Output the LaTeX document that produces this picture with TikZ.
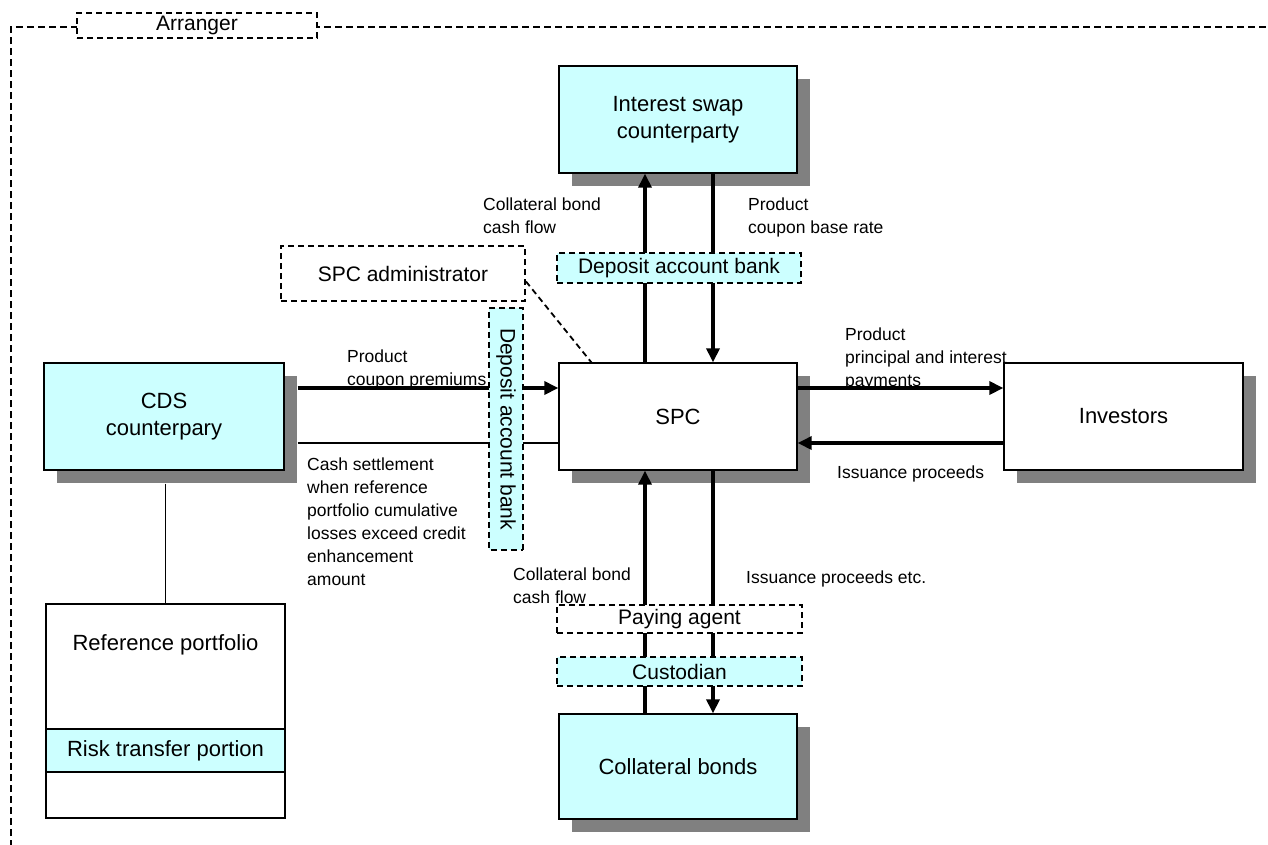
\documentclass[tikz,border=0pt]{standalone}
\usepackage{fontspec}
\setmainfont{Liberation Sans}
\usetikzlibrary{arrows.meta,calc,shadows}
\definecolor{lc}{HTML}{CCFFFF}
\definecolor{sh}{HTML}{808080}
\begin{document}
\begin{tikzpicture}[x=1pt,y=-1pt,
  solidbox/.style={draw, line width=1.3pt, minimum width=238pt, minimum height=107pt, align=center, font=\fontsize{22}{27}\selectfont, inner sep=0pt},
  shad/.style={drop shadow={shadow xshift=13pt, shadow yshift=-13pt, fill=sh, opacity=1}},
  dbox/.style={draw, line width=2pt, dash pattern=on 6pt off 4pt, font=\fontsize{21}{24}\selectfont, inner sep=0pt},
  flow/.style={line width=3.3pt, -{Triangle[length=14pt,width=13pt]}},
  plain/.style={line width=2.5pt},
  lbl/.style={font=\fontsize{17.5}{23}\selectfont, align=left, anchor=north west, inner sep=0pt},
  lbs/.style={font=\fontsize{17.5}{23}\selectfont, anchor=base west, inner sep=0pt},
  frame/.style={line width=2pt, dash pattern=on 7pt off 4pt},
]
\useasboundingbox (0,0) rectangle (1268,844);
\clip (0,0) rectangle (1268,844);

% outer frame
\draw[frame] (11,880) -- (11,27) -- (1300,27);

% solid boxes
\node[solidbox, fill=lc, shad] (isc) at (678,119.5) {Interest swap\\counterparty};
\node[solidbox, fill=white, shad] (spc) at (678,416.5) {SPC};
\node[solidbox, fill=lc, shad, minimum width=240pt] (cds) at (164,416.5) {CDS\\counterpary};
\node[solidbox, fill=white, shad, minimum width=239pt] (inv) at (1123.5,416.5) {Investors};
\node[solidbox, fill=lc, shad, minimum height=105pt] (col) at (678,766.5) {Collateral bonds};

% reference portfolio
\node[solidbox, fill=white, minimum width=239pt, minimum height=214pt] (ref) at (165.5,711) {};
\node[font=\fontsize{22}{27}\selectfont, inner sep=0pt] (reftxt) at (165.5,645) {Reference portfolio};
\node[solidbox, fill=lc, minimum width=239pt, minimum height=43pt] (band) at (165.5,750.5) {Risk transfer portion};

% helper coordinates
\coordinate (ux) at (645,0);
\coordinate (dx) at (713,0);
\coordinate (yA) at (0,388);
\coordinate (yB) at (0,443);
\coordinate (cdsb) at ($(cds.south)+(0,13)$);

% connectors
\draw[line width=1.5pt] (cdsb -| ref.north) -- (ref.north);
\draw[flow] (spc.north -| ux) -- (isc.south -| ux);
\draw[flow] (isc.south -| dx) -- (spc.north -| dx);
\draw[flow] ($(cds.east |- yA)+(13,0)$) -- (spc.west |- yA);
\draw[plain] ($(cds.east |- yB)+(13,0)$) -- (spc.west |- yB);
\draw[flow] (spc.east |- yA) -- (inv.west |- yA);
\draw[flow] (inv.west |- yB) -- (spc.east |- yB);
\draw[flow] (col.north -| ux) -- (spc.south -| ux);
\draw[flow] (spc.south -| dx) -- (col.north -| dx);

% dashed boxes
\node[dbox, fill=white, minimum width=240pt, minimum height=25pt] (arr) at (197,25.5) {Arranger};
\node[dbox, fill=white, minimum width=244pt, minimum height=55pt] (admin) at (403,273.5) {SPC administrator};
\node[dbox, fill=lc, minimum width=244pt, minimum height=30pt] (dabh) at (679,268) {Deposit account bank};
\node[dbox, fill=lc, rotate=-90, minimum width=242pt, minimum height=34pt] (dabv) at (506,429) {Deposit account bank};
\node[dbox, fill=white, minimum width=245pt, minimum height=28pt] (pay) at (679.5,619) {Paying agent};
\node[dbox, fill=lc, minimum width=245pt, minimum height=29pt] (cust) at (679.5,671.5) {Custodian};

\draw[line width=1.8pt, dash pattern=on 6pt off 4pt] ($(admin.east)+(0,8)$) -- ($(spc.north west)+(33,0)$);

% labels
\node[lbl] (l1) at (483,198) {Collateral bond\\cash flow};
\node[lbl] (l2) at (748,198) {Product\\coupon base rate};
\node[lbl] (l3) at (347,350) {Product\\coupon premiums};
\node[lbl] (l4) at (307,458) {Cash settlement\\when reference\\portfolio cumulative\\losses exceed credit\\enhancement\\amount};
\node[lbl] (l5) at (845,328) {Product\\principal and interest\\payments};
\node[lbs] (l6) at (837,478) {Issuance proceeds};
\node[lbl] (l7) at (513,568) {Collateral bond\\cash flow};
\node[lbs] (l8) at (746,583) {Issuance proceeds etc.};
\end{tikzpicture}
\end{document}
